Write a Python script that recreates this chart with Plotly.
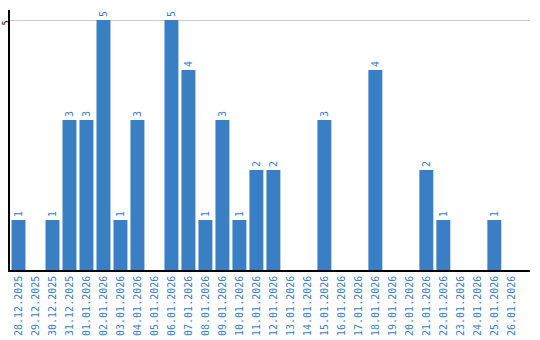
import plotly.graph_objects as go

dates = ["28.12.2025", "29.12.2025", "30.12.2025", "31.12.2025", "01.01.2026", "02.01.2026",
         "03.01.2026", "04.01.2026", "05.01.2026", "06.01.2026", "07.01.2026", "08.01.2026",
         "09.01.2026", "10.01.2026", "11.01.2026", "12.01.2026", "13.01.2026", "14.01.2026",
         "15.01.2026", "16.01.2026", "17.01.2026", "18.01.2026", "19.01.2026", "20.01.2026",
         "21.01.2026", "22.01.2026", "23.01.2026", "24.01.2026", "25.01.2026", "26.01.2026"]
counts = [1, 0, 1, 3, 3, 5, 1, 3, 0, 5, 4, 1, 3, 1, 2, 2, 0, 0, 3, 0, 0, 4, 0, 0, 2, 1, 0, 0, 1, 0]

BLUE = "#3a7ec3"
labels = [str(v) if v > 0 else "" for v in counts]

fig = go.Figure(go.Bar(
    x=dates, y=counts, marker_color=BLUE, marker_line_width=0,
    text=labels, textposition="outside", textangle=-90,
    textfont=dict(family="DejaVu Sans Mono", size=10, color=BLUE),
    cliponaxis=False, hoverinfo="skip",
))

fig.update_layout(
    width=540, height=340,
    margin=dict(l=10, r=10, t=10, b=70),
    plot_bgcolor="white", paper_bgcolor="white",
    bargap=0.18, showlegend=False,
    xaxis=dict(type="category", range=[-0.5, 30.1], tickangle=-90, automargin=False,
               tickfont=dict(family="DejaVu Sans Mono", size=10, color=BLUE),
               showline=True, linecolor="black", linewidth=1.5, ticks="",
               showgrid=False, zeroline=False),
    yaxis=dict(range=[0, 5.2], tickvals=[5], ticktext=["5"], tickangle=-90, automargin=False,
               tickfont=dict(family="DejaVu Sans Mono", size=8, color="black"),
               showline=True, linecolor="black", linewidth=1.5, ticks="",
               showgrid=True, gridcolor="#cccccc", gridwidth=1, zeroline=False,
               ticklabelstandoff=-4, ticklabelshift=4),
)

fig.write_html("out.html")
